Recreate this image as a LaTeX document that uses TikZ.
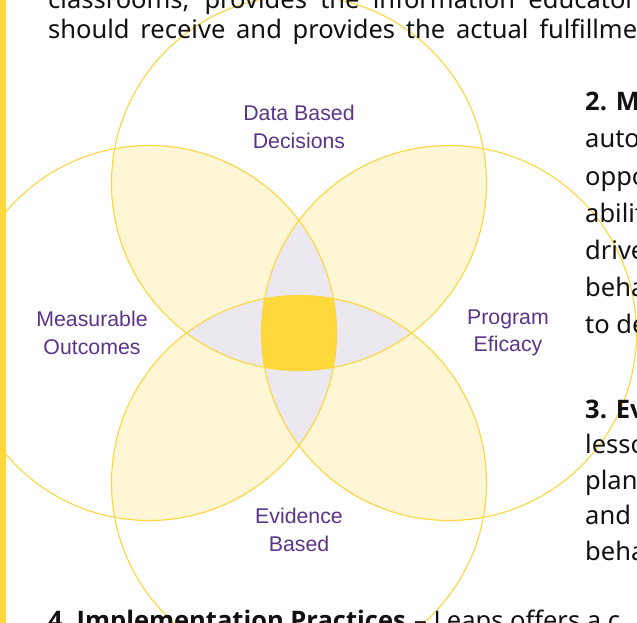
\documentclass[tikz,border=0pt]{standalone}
\usepackage{fontspec}
\setmainfont{Noto Sans}
\newfontfamily\headfont{Open Sans}
\newfontfamily\labelfont{Liberation Sans}
\definecolor{gold}{HTML}{FFD83B}
\definecolor{ring}{HTML}{FDD53C}
\definecolor{paleyel}{HTML}{FFF6D6}
\definecolor{lav}{HTML}{EBE8F0}
\definecolor{purp}{HTML}{5B3587}
\definecolor{ink}{HTML}{111111}
\tikzset{
  body/.style={anchor=base west, inner sep=0pt, text=ink, font=\fontsize{25.5}{30}\selectfont},
  head/.style={anchor=base west, inner sep=0pt, text=ink, font=\headfont\fontsize{25.5}{30}\selectfont\bfseries},
  vlabel/.style={align=center, text=purp, inner sep=0pt, font=\labelfont\fontsize{21.3}{27.7}\selectfont},
  ringline/.style={draw=ring, line width=1.1pt}
}
\begin{document}
\begin{tikzpicture}[x=1pt,y=-1pt]
\useasboundingbox (0,0) rectangle (637,623);
\clip (0,0) rectangle (637,623);
\fill[white] (0,0) rectangle (637,623);
\def\R{187.5}
\coordinate (T) at (299,183);
\coordinate (B) at (299,483);
\coordinate (L) at (149,333);
\coordinate (Q) at (449,333);
% two-circle overlaps
\begin{scope}
  \clip (T) circle[radius=\R];
  \fill[paleyel] (L) circle[radius=\R];
  \fill[paleyel] (Q) circle[radius=\R];
\end{scope}
\begin{scope}
  \clip (B) circle[radius=\R];
  \fill[paleyel] (L) circle[radius=\R];
  \fill[paleyel] (Q) circle[radius=\R];
\end{scope}
% three-circle overlaps
\begin{scope}
  \clip (T) circle[radius=\R];
  \fill[lav] (B) circle[radius=\R];
\end{scope}
\begin{scope}
  \clip (L) circle[radius=\R];
  \fill[lav] (Q) circle[radius=\R];
\end{scope}
% four-circle centre
\begin{scope}
  \clip (T) circle[radius=\R];
  \clip (B) circle[radius=\R];
  \clip (L) circle[radius=\R];
  \fill[gold] (Q) circle[radius=\R];
\end{scope}
% outlines
\foreach \c in {T,B,L,Q}{\draw[ringline] (\c) circle[radius=\R];}
% labels
\node[vlabel] (lt) at (299,127) {Data Based\\Decisions};
\node[vlabel] (ll) at (92,333) {Measurable\\Outcomes};
\node[vlabel] (lr) at (508,333) {Program\\Eficacy};
\node[vlabel] (lb) at (299,530) {Evidence\\Based};
% left bar
\fill[gold] (0,0) rectangle (5.5,623);
% body text
\node[body] (t0) at (48,8.5) {\makebox[600pt][s]{classrooms, provides the information educators}};
\node[body] (t1) at (48,38.5) {\makebox[589pt][s]{should receive and provides the actual fulfillme}};
\node[head] (p2a) at (585,111) {2. M};
\node[body] (p2b) at (585,148) {auto};
\node[body] (p2c) at (585,185) {oppo};
\node[body] (p2d) at (585,222) {abilit};
\node[body] (p2e) at (585,259) {drive};
\node[body] (p2f) at (585,296) {beha};
\node[body] (p2g) at (585,333) {to de};
\node[head] (p3a) at (585,418) {3. Ev};
\node[body] (p3b) at (585,453.5) {lesso};
\node[body] (p3c) at (585,489) {plan};
\node[body] (p3d) at (585,524.5) {and};
\node[body] (p3e) at (585,560) {beha};
\node[head] (p4a) at (48,629) {4.~Implementation Practices};
\node[body] (p4b) at ([xshift=8pt]p4a.base east) {– Leaps offers a c};
\end{tikzpicture}
\end{document}
